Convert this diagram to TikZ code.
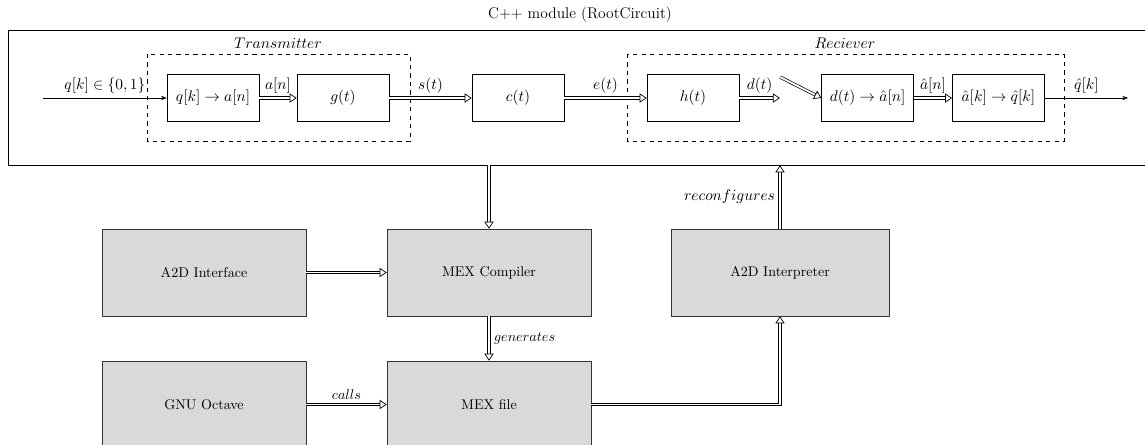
\documentclass[tikz,border=0pt]{standalone}
\usetikzlibrary{arrows.meta}
\tikzset{
    block/.style={draw, minimum width=2.3cm, minimum height=1.175cm, font=\fontsize{10.5}{12.5}\selectfont},
    app/.style={draw=black!80, fill=gray!30, minimum width=5.1cm, minimum height=2.175cm},
    sig/.style={double, line width=0.5pt, double distance=1.3pt, -{Triangle[open, length=5pt, width=6.5pt]}},
    bit/.style={-{Stealth[length=4pt]}},
    big/.style={font=\fontsize{11}{13.5}\selectfont},
}
\begin{document}
\begin{tikzpicture}
    \useasboundingbox (0,0) rectangle (28.625,-11.125);
    %C++ module
    \node[draw, minimum width=28.6cm, minimum height=3.375cm] (module) at (14.5,-2.4375) {};
    \node[big] (title) at (14.5,-0.375) {C++ module (RootCircuit)};
    %transmitter
    \draw[dashed] (3.675,-1.35) rectangle (10.25,-3.525);
    \node[big] (txlabel) at (6.95,-1.075) {$Transmitter$};
    \node[block] (qa) at (5.325,-2.45) {$q[k]\rightarrow a[n]$};
    \node[block] (g) at (8.575,-2.45) {$g(t)$};
    %channel
    \node[block] (c) at (12.95,-2.45) {$c(t)$};
    %receiver
    \draw[dashed] (15.675,-1.35) rectangle (26.6,-3.525);
    \node[big] (rxlabel) at (21.125,-1.075) {$Reciever$};
    \node[block] (h) at (17.325,-2.45) {$h(t)$};
    \node[block] (da) at (21.69,-2.45) {$d(t)\rightarrow \hat{a}[n]$};
    \node[block] (aq) at (24.96,-2.45) {$\hat{a}[k]\rightarrow \hat{q}[k]$};
    \coordinate (in) at (1.075,-2.45);
    \coordinate (out) at (28.2,-2.45);
    \coordinate (dend) at (19.5,-2.45);
    \coordinate (dstart) at (19.5,-1.925);
    %signals
    \draw[bit] (in) -- node[above, big] {$q[k]\in\{0,1\}$} (qa);
    \draw[sig] (qa) -- node[above, big] {$a[n]$} (g);
    \draw[sig] (g) -- node[above, big] {$s(t)$} (c);
    \draw[sig] (c) -- node[above, big] {$e(t)$} (h);
    \draw[sig] (h) -- node[above, big] {$d(t)$} (dend);
    \draw[sig] (dstart) -- (da.west);
    \draw[sig] (da) -- node[above, big] {$\hat{a}[n]$} (aq);
    \draw[bit] (aq) -- node[above, big] {$\hat{q}[k]$} (out);
    %tools
    \node[app] (iface) at (5.1,-6.8125) {A2D Interface};
    \node[app] (mexc) at (12.225,-6.8125) {MEX Compiler};
    \node[app, minimum width=5.45cm] (interp) at (19.5,-6.8125) {A2D Interpreter};
    \node[app] (octave) at (5.1,-10.1125) {GNU Octave};
    \node[app] (mexf) at (12.225,-10.1125) {MEX file};
    \draw[sig] (mexc.north |- module.south) -- (mexc.north);
    \draw[sig] (iface) -- (mexc);
    \draw[sig] (mexc) -- node[right] {$generates$} (mexf);
    \draw[sig] (octave) -- node[above] {$calls$} (mexf);
    \draw[sig] (mexf.east) -| (interp.south);
    \draw[sig] (interp.north) -- node[left, big] {$reconfigures$} (interp.north |- module.south);
\end{tikzpicture}
\end{document}
